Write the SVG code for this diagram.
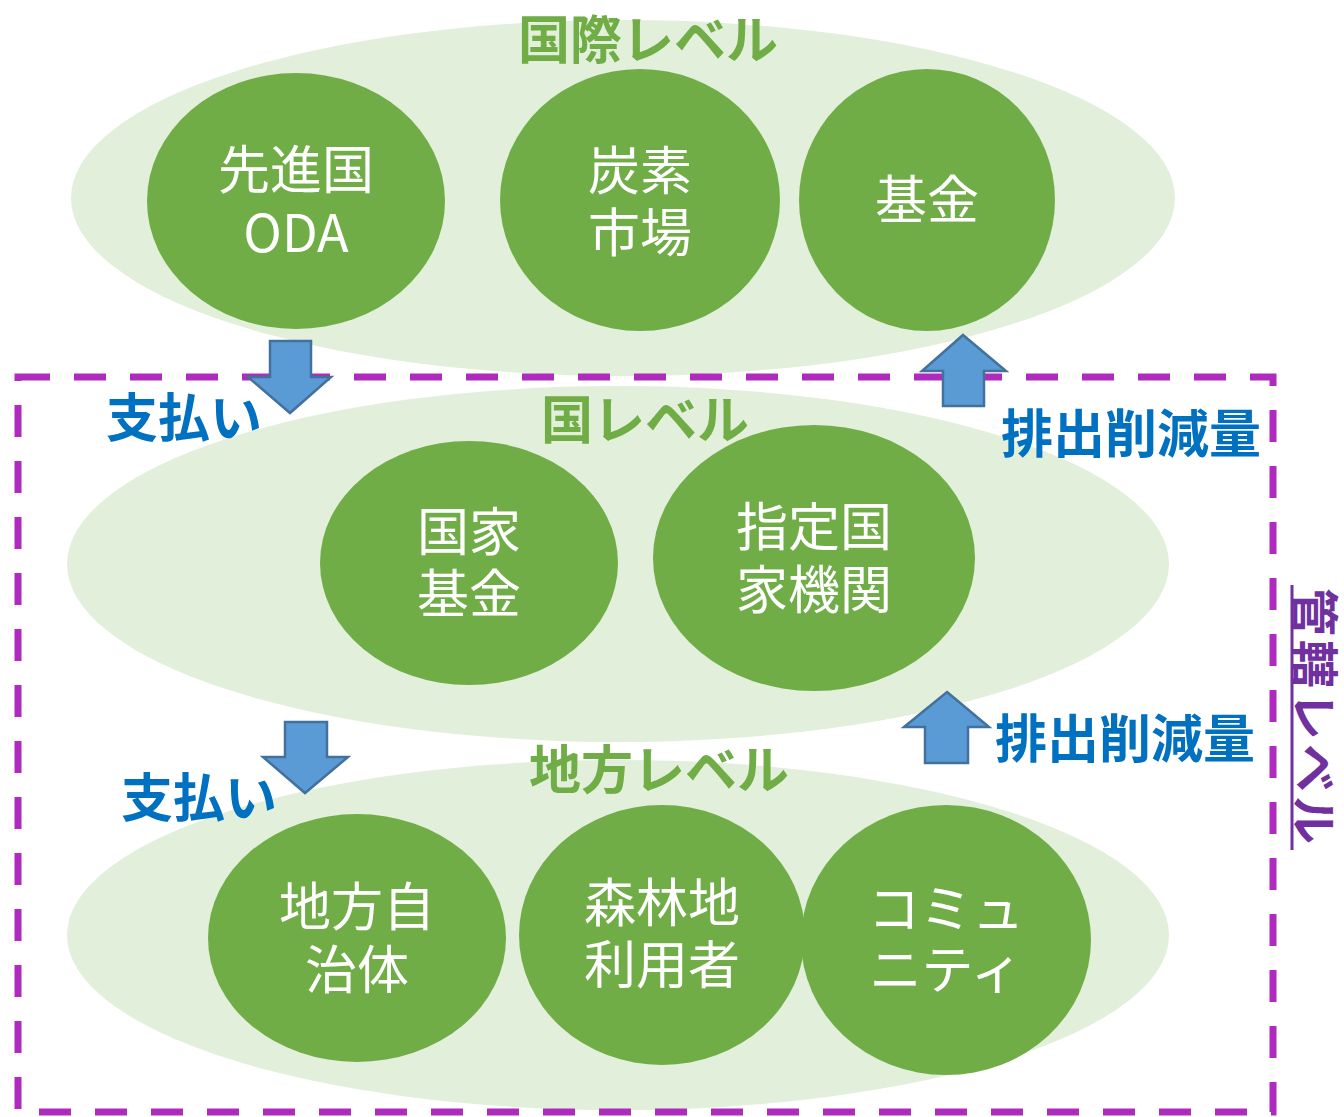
<svg xmlns="http://www.w3.org/2000/svg" width="1344" height="1117" viewBox="0 0 1344 1117">
<style>
.bg{fill:#E2EFDA}
.nd{fill:#70AD47}
.nt{font-family:"Noto Sans CJK JP","Noto Sans",sans-serif;font-size:52px;fill:#fff;text-anchor:middle;dominant-baseline:central}
.tt{font-family:"Noto Sans CJK JP","Noto Sans",sans-serif;font-size:52px;font-weight:bold;fill:#70AD47;text-anchor:middle;dominant-baseline:central}
.bl{font-family:"Noto Sans CJK JP","Noto Sans",sans-serif;font-size:52px;font-weight:bold;fill:#0070C0;dominant-baseline:central}
.ar{fill:#5B9BD5;stroke:#41719C;stroke-width:2.5}
</style>
<rect width="1344" height="1117" fill="#fff"/>
<g id="level-international">
<ellipse class="bg" cx="623" cy="198" rx="552" ry="178"/>
<text class="tt" x="648" y="36">国際レベル</text>
</g>
<g id="level-national">
<ellipse class="bg" cx="618" cy="564" rx="551" ry="178"/>
<text class="tt" x="645" y="416">国レベル</text>
</g>
<g id="level-local">
<ellipse class="bg" cx="618" cy="935" rx="551" ry="175"/>
<text class="tt" x="659" y="766">地方レベル</text>
</g>
<g id="jurisdiction">
<rect x="18" y="377" width="1255" height="735" fill="none" stroke="#AE2BBE" stroke-width="7" stroke-dasharray="32 24"/>
<text font-family="Noto Sans CJK JP, sans-serif" font-size="48" font-weight="bold" fill="#7030A0" text-anchor="middle" dominant-baseline="central" letter-spacing="4" transform="translate(1318 718) rotate(90)">管轄レベル</text>
<line x1="1292" y1="585" x2="1292" y2="850" stroke="#7030A0" stroke-width="3"/>
</g>
<g id="n-oda"><ellipse class="nd" cx="296" cy="201" rx="149" ry="128"/><text class="nt" x="296" y="166">先進国</text><text class="nt" x="296" y="229">ODA</text></g>
<g id="n-carbon"><ellipse class="nd" cx="640" cy="200" rx="140" ry="131"/><text class="nt" x="640" y="167">炭素</text><text class="nt" x="640" y="229">市場</text></g>
<g id="n-fund"><ellipse class="nd" cx="927" cy="200" rx="128" ry="131"/><text class="nt" x="927" y="196">基金</text></g>
<g id="n-national-fund"><ellipse class="nd" cx="469" cy="563" rx="149" ry="122"/><text class="nt" x="469" y="528">国家</text><text class="nt" x="469" y="590">基金</text></g>
<g id="n-dna"><ellipse class="nd" cx="814" cy="558" rx="161" ry="133"/><text class="nt" x="814" y="523">指定国</text><text class="nt" x="814" y="586">家機関</text></g>
<g id="n-local-gov"><ellipse class="nd" cx="357" cy="938" rx="149" ry="124"/><text class="nt" x="357" y="903">地方自</text><text class="nt" x="357" y="966">治体</text></g>
<g id="n-forest"><ellipse class="nd" cx="662" cy="935" rx="143" ry="130"/><text class="nt" x="662" y="899">森林地</text><text class="nt" x="662" y="961">利用者</text></g>
<g id="n-community"><ellipse class="nd" cx="946" cy="940" rx="145" ry="135"/><text class="nt" x="946" y="905">コミュ</text><text class="nt" x="946" y="966">ニティ</text></g>
<g id="connectors">
<path class="ar" d="M270 341H311V377H331L290 413L248 377H270Z"/>
<path class="ar" d="M963 335L1006 371H984V406H943V371H922Z"/>
<path class="ar" d="M285 722H327V757H348L305 793L263 757H285Z"/>
<path class="ar" d="M947 692L989 727H968V763H925V727H904Z"/>
<text class="bl" x="106" y="414">支払い</text>
<text class="bl" x="121" y="794">支払い</text>
<text class="bl" x="1001" y="430">排出削減量</text>
<text class="bl" x="995" y="735">排出削減量</text>
</g>
</svg>
